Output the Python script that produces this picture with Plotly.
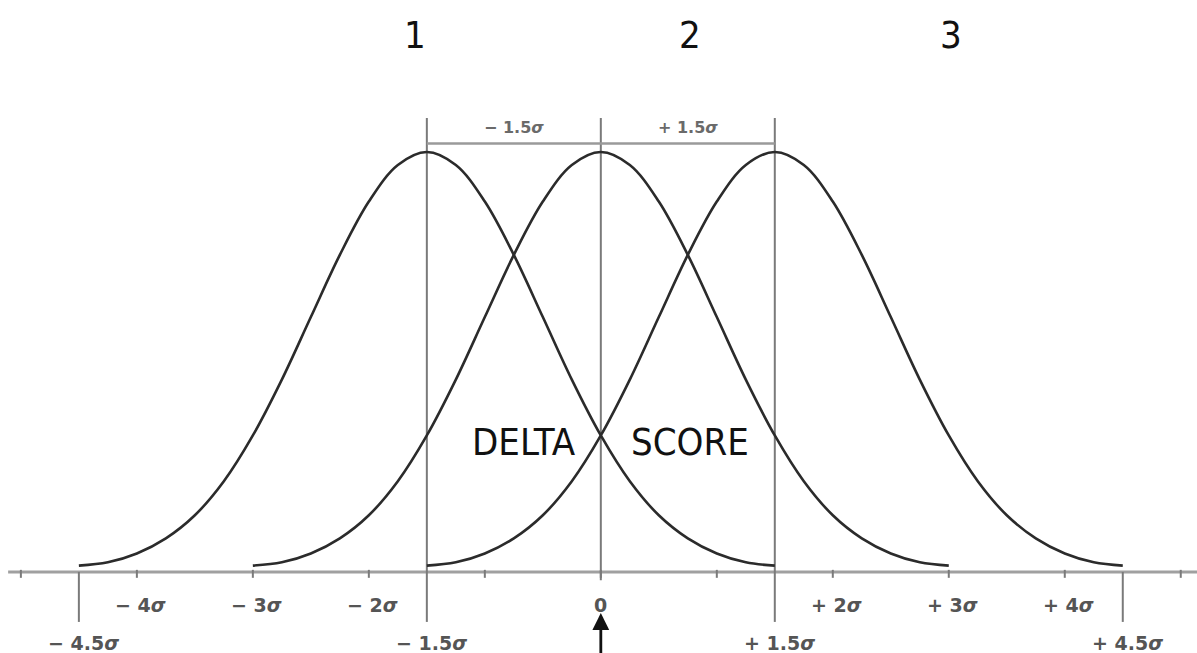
import plotly.graph_objects as go

# shift of each curve's centre, in sigma
centers = [-1.5, 0.0, 1.5]
curve_names = ["1", "2", "3"]

# one bell profile (offset from centre in sigma, height / peak)
offsets = [-3.0, -2.75, -2.5, -2.25, -2.0, -1.75, -1.5, -1.25, -1.0, -0.75, -0.5, -0.25,
           0.0, 0.25, 0.5, 0.75, 1.0, 1.25, 1.5, 1.75, 2.0, 2.25, 2.5, 2.75, 3.0]
heights = [0.015, 0.023, 0.044, 0.08, 0.135, 0.216, 0.325, 0.458, 0.607, 0.755, 0.882, 0.969,
           1.0, 0.969, 0.882, 0.755, 0.607, 0.458, 0.325, 0.216, 0.135, 0.08, 0.044, 0.023, 0.015]

tick_pos = [-5, -4, -3, -2, -1, 0, 1, 2, 3, 4, 5]
upper_pos = [-4, -3, -2, 0, 2, 3, 4]
upper_labels = ["\u2212 4<i>\u03c3</i>", "\u2212 3<i>\u03c3</i>", "\u2212 2<i>\u03c3</i>", "0",
                "+ 2<i>\u03c3</i>", "+ 3<i>\u03c3</i>", "+ 4<i>\u03c3</i>"]
lower_pos = [-4.5, -1.5, 1.5, 4.5]
lower_labels = ["\u2212 4.5<i>\u03c3</i>", "\u2212 1.5<i>\u03c3</i>",
                "+ 1.5<i>\u03c3</i>", "+ 4.5<i>\u03c3</i>"]
shift_labels = ["\u2212 1.5<i>\u03c3</i>", "+ 1.5<i>\u03c3</i>"]

curve_col = "#2b2b2b"
guide_col = "#7a7a7a"
axis_col = "#a0a0a0"
label_col = "#555555"
narrow = "DejaVu Sans Condensed, DejaVu Sans, sans-serif"

fig = go.Figure()

# x axis line and integer ticks
fig.add_trace(go.Scatter(x=[-5.11, 5.2], y=[0, 0], mode="lines",
                         line=dict(color=axis_col, width=3), hoverinfo="skip"))
for t in tick_pos:
    fig.add_trace(go.Scatter(x=[t, t], y=[0.005, -0.014], mode="lines",
                             line=dict(color=guide_col, width=2), hoverinfo="skip"))

# long drops at the curve limits
for p in lower_pos:
    fig.add_trace(go.Scatter(x=[p, p], y=[0, -0.119], mode="lines",
                             line=dict(color=guide_col, width=2), hoverinfo="skip"))

# vertical guides through the three centres
for c in centers:
    bottom = -0.02 if c == 0 else 0
    fig.add_trace(go.Scatter(x=[c, c], y=[1.081, bottom], mode="lines",
                             line=dict(color=guide_col, width=2), hoverinfo="skip"))

# bracket between the peaks
fig.add_trace(go.Scatter(x=[centers[0], centers[-1]], y=[1.02, 1.02], mode="lines",
                         line=dict(color="#9a9a9a", width=2.5), hoverinfo="skip"))

# the three bell curves
for c, name in zip(centers, curve_names):
    fig.add_trace(go.Scatter(x=[c + o for o in offsets], y=heights, mode="lines",
                             line=dict(color=curve_col, width=2.6, shape="spline"),
                             name=name, hoverinfo="skip"))

tick_font = dict(family="DejaVu Sans", size=19, color=label_col, weight="bold")
for p, lab in zip(upper_pos, upper_labels):
    fig.add_annotation(x=p + (0.03 if p != 0 else 0), y=-0.079, text=lab, showarrow=False,
                       font=tick_font)
for p, lab in zip(lower_pos, lower_labels):
    fig.add_annotation(x=p + 0.04, y=-0.169, text=lab, showarrow=False, font=tick_font)

shift_font = dict(family="DejaVu Sans", size=16, color="#6a6a6a", weight="bold")
fig.add_annotation(x=(centers[0] + centers[1]) / 2, y=1.058, text=shift_labels[0],
                   showarrow=False, font=shift_font)
fig.add_annotation(x=(centers[1] + centers[2]) / 2, y=1.058, text=shift_labels[1],
                   showarrow=False, font=shift_font)

# curve numbers on top
name_pos = [-1.6, 0.77, 3.02]
for p, name in zip(name_pos, curve_names):
    fig.add_annotation(x=p, y=1.279, text=name, showarrow=False,
                       font=dict(family=narrow, size=38, color="#111111"))

big_font = dict(family=narrow, size=38, color="#111111")
fig.add_annotation(x=-0.66, y=0.31, text="DELTA", showarrow=False, font=big_font)
fig.add_annotation(x=0.77, y=0.31, text="SCORE", showarrow=False, font=big_font)

# arrow under zero
fig.add_annotation(x=0, y=-0.098, ax=0, ay=-0.2, axref="x", ayref="y", xref="x", yref="y",
                   text="", showarrow=True, arrowhead=2, arrowsize=1.2, arrowwidth=2.8,
                   arrowcolor="#111111")

fig.update_layout(
    width=1197, height=653,
    margin=dict(l=0, r=0, t=0, b=0),
    plot_bgcolor="white", paper_bgcolor="white",
    showlegend=False,
    xaxis=dict(range=[-5.18, 5.14], visible=False, fixedrange=True),
    yaxis=dict(range=[-0.193, 1.362], visible=False, fixedrange=True),
)

fig.write_html("out.html", config={"displayModeBar": False},
               post_script="document.body.style.margin='0';")
